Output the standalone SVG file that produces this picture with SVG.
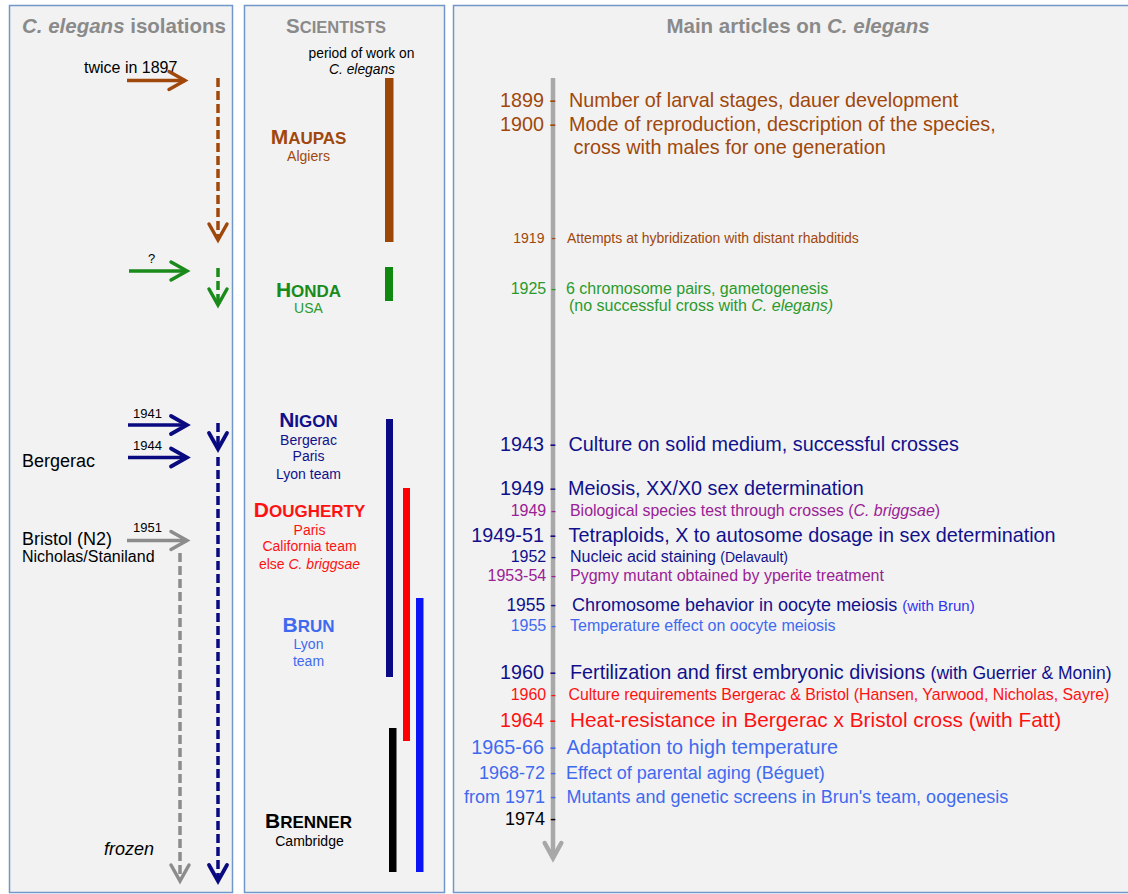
<svg xmlns="http://www.w3.org/2000/svg" width="1128" height="894" viewBox="0 0 1128 894">
<style>
text { font-family: "Liberation Sans", Arial, Helvetica, sans-serif; }
.panel { fill: #F2F2F2; stroke: #7298CB; stroke-width: 1.5; }
.title { font-size: 20.5px; font-weight: bold; fill: #8A8A8A; }
.it { font-style: italic; }
.name { font-weight: bold; text-anchor: middle; font-size: 17px; }
.cap { font-size: 21px; }
.sub { font-size: 14px; text-anchor: middle; }
.yr { text-anchor: end; }
.brown { fill: #A0480C; }
.green { fill: #1A8A1A; }
.green2 { fill: #2A9A2C; }
.navy { fill: #10108C; }
.red { fill: #FF1111; }
.purple { fill: #9A2196; }
.lblue { fill: #3F6AF0; }
.blue { fill: #3333EE; }
.blk { fill: #000000; }
.arr { fill: none; stroke-width: 3.5; }
.dash { stroke-dasharray: 9 4; }
</style>
<defs>
<marker id="m-brown" viewBox="0 0 22 22" refX="18" refY="11" markerWidth="22" markerHeight="22" markerUnits="userSpaceOnUse" orient="auto" style="overflow:visible"><path d="M2,2 L18,11 L2,20" fill="none" stroke="#A0480C" stroke-width="3.5" stroke-linecap="round"/></marker>
<marker id="m-green" viewBox="0 0 22 22" refX="18" refY="11" markerWidth="22" markerHeight="22" markerUnits="userSpaceOnUse" orient="auto" style="overflow:visible"><path d="M2,2 L18,11 L2,20" fill="none" stroke="#1A8A1A" stroke-width="3.5" stroke-linecap="round"/></marker>
<marker id="m-navy" viewBox="0 0 22 22" refX="18" refY="11" markerWidth="22" markerHeight="22" markerUnits="userSpaceOnUse" orient="auto" style="overflow:visible"><path d="M2,2 L18,11 L2,20" fill="none" stroke="#0A0A80" stroke-width="3.8" stroke-linecap="round"/></marker>
<marker id="m-gray" viewBox="0 0 22 22" refX="18" refY="11" markerWidth="22" markerHeight="22" markerUnits="userSpaceOnUse" orient="auto" style="overflow:visible"><path d="M2,2 L18,11 L2,20" fill="none" stroke="#8C8C8C" stroke-width="3.5" stroke-linecap="round"/></marker>
<marker id="m-time" viewBox="0 0 22 22" refX="18" refY="11" markerWidth="22" markerHeight="22" markerUnits="userSpaceOnUse" orient="auto" style="overflow:visible"><path d="M3,2.7 L18,11 L3,19.3" fill="none" stroke="#A8A8A8" stroke-width="4.5" stroke-linecap="round"/></marker>
</defs>
<rect width="1128" height="894" fill="#FFFFFF"/>

<g id="panel-isolations">
<rect class="panel" x="9.5" y="5.5" width="223" height="887"/>
<text class="title" x="22" y="33"><tspan class="it">C. elegans</tspan> isolations</text>
<text x="84" y="73" font-size="16">twice in 1897</text>
<text x="148" y="263" font-size="13">?</text>
<text x="133" y="418" font-size="13">1941</text>
<text x="133" y="450" font-size="13">1944</text>
<text x="22" y="467" font-size="18">Bergerac</text>
<text x="22" y="545" font-size="18">Bristol (N2)</text>
<text x="22" y="562" font-size="16">Nicholas/Staniland</text>
<text x="133" y="532" font-size="13">1951</text>
<text class="it" x="104" y="855" font-size="18">frozen</text>
</g>

<g id="panel-scientists">
<rect class="panel" x="244.5" y="5.5" width="200" height="887"/>
<text class="title" x="336" y="33" text-anchor="middle">S<tspan font-size="16.5">CIENTISTS</tspan></text>
<text x="361.5" y="58" font-size="13.8" text-anchor="middle">period of work on</text>
<text class="it" x="362" y="74" font-size="13.8" text-anchor="middle">C. elegans</text>
</g>

<g id="panel-articles">
<rect class="panel" x="453.5" y="5.5" width="700" height="887"/>
<text class="title" x="798" y="33" text-anchor="middle">Main articles on <tspan class="it">C. elegans</tspan></text>
</g>

<g id="maupas">
<rect x="385" y="78" width="8.5" height="164" fill="#9C4706"/>
<text class="name brown" x="308.5" y="144"><tspan class="cap">M</tspan>AUPAS</text>
<text class="sub brown" x="308.5" y="161">Algiers</text>
</g>
<g id="honda">
<rect x="385" y="267" width="8" height="34" fill="#0E880E"/>
<text class="name green" x="308.5" y="297"><tspan class="cap">H</tspan>ONDA</text>
<text class="sub green2" x="308.5" y="313">USA</text>
</g>
<g id="nigon">
<rect x="386" y="419" width="7" height="258" fill="#0A0A84"/>
<text class="name navy" x="308.5" y="427"><tspan class="cap">N</tspan>IGON</text>
<text class="sub navy" x="308.5" y="445">Bergerac</text>
<text class="sub navy" x="308.5" y="461">Paris</text>
<text class="sub navy" x="308.5" y="479">Lyon team</text>
</g>
<g id="dougherty">
<rect x="403" y="488" width="7" height="253" fill="#FF0000"/>
<text class="name red" x="309.5" y="517"><tspan class="cap">D</tspan>OUGHERTY</text>
<text class="sub red" x="309.5" y="535">Paris</text>
<text class="sub red" x="309.5" y="551">California team</text>
<text class="sub red" x="309.5" y="569">else <tspan class="it">C. briggsae</tspan></text>
</g>
<g id="brun">
<rect x="416" y="598" width="7.5" height="274" fill="#0A14F5"/>
<text class="name lblue" x="308.5" y="632"><tspan class="cap">B</tspan>RUN</text>
<text class="sub lblue" x="308.5" y="649">Lyon</text>
<text class="sub lblue" x="308.5" y="666">team</text>
</g>
<g id="brenner">
<rect x="389" y="728" width="7.5" height="144" fill="#000000"/>
<text class="name blk" x="308.5" y="828"><tspan class="cap">B</tspan>RENNER</text>
<text class="sub blk" x="309.5" y="846">Cambridge</text>
</g>

<g id="timeline">
<line x1="553" y1="78" x2="553" y2="858" stroke="#A8A8A8" stroke-width="4.5" marker-end="url(#m-time)"/>
</g>

<g id="articles">
<text class="yr brown" x="556" y="107" font-size="19.8">1899 -</text>
<text class="brown" x="569" y="107" font-size="19.8">Number of larval stages, dauer development</text>
<text class="yr brown" x="556" y="131" font-size="19.8">1900 -</text>
<text class="brown" x="569" y="131" font-size="19.8">Mode of reproduction, description of the species,</text>
<text class="brown" x="573.5" y="154" font-size="19.8">cross with males for one generation</text>
<text class="yr brown" x="556" y="243" font-size="14">1919 <tspan dx="3">-</tspan></text>
<text class="brown" x="567" y="243" font-size="14">Attempts at hybridization with distant rhabditids</text>
<text class="yr green2" x="556" y="294" font-size="16">1925 -</text>
<text class="green2" x="566" y="294" font-size="16">6 chromosome pairs, gametogenesis</text>
<text class="green2" x="569" y="311" font-size="16">(no successful cross with <tspan class="it">C. elegans)</tspan></text>

<text class="yr navy" x="556" y="451" font-size="19.8">1943 -</text>
<text class="navy" x="568.5" y="451" font-size="19.8">Culture on solid medium, successful crosses</text>
<text class="yr navy" x="556" y="495" font-size="19.8">1949 -</text>
<text class="navy" x="568" y="495" font-size="19.8">Meiosis, XX/X0 sex determination</text>
<text class="yr purple" x="556" y="516" font-size="16">1949 -</text>
<text class="purple" x="570" y="516" font-size="15.9">Biological species test through crosses (<tspan class="it">C. briggsae</tspan>)</text>
<text class="yr navy" x="556" y="542" font-size="19.8">1949-51 -</text>
<text class="navy" x="568.5" y="542" font-size="19.8">Tetraploids, X to autosome dosage in sex determination</text>
<text class="yr navy" x="556" y="562" font-size="16">1952 -</text>
<text class="navy" x="570" y="562" font-size="16">Nucleic acid staining <tspan font-size="14">(Delavault)</tspan></text>
<text class="yr purple" x="556" y="581" font-size="16">1953-54 -</text>
<text class="purple" x="570" y="581" font-size="16">Pygmy mutant obtained by yperite treatment</text>
<text class="yr navy" x="556" y="611" font-size="17.5">1955 -</text>
<text class="navy" x="572" y="611" font-size="18">Chromosome behavior in oocyte meiosis <tspan class="blue" font-size="15">(with Brun)</tspan></text>
<text class="yr lblue" x="556" y="631" font-size="16">1955 -</text>
<text class="lblue" x="570" y="631" font-size="16">Temperature effect on oocyte meiosis</text>

<text class="yr navy" x="556" y="679" font-size="19.8">1960 -</text>
<text class="navy" x="570" y="679" font-size="19.8">Fertilization and first embryonic divisions <tspan font-size="17.5">(with Guerrier &amp; Monin)</tspan></text>
<text class="yr red" x="556" y="700" font-size="16">1960 -</text>
<text class="red" x="568.5" y="700" font-size="15.9">Culture requirements Bergerac &amp; Bristol (Hansen, Yarwood, Nicholas, Sayre)</text>
<text class="yr red" x="556" y="727" font-size="19.8">1964 -</text>
<text class="red" x="570" y="727" font-size="20.8">Heat-resistance in Bergerac x Bristol cross (with Fatt)</text>
<text class="yr lblue" x="556" y="754" font-size="19.8">1965-66 -</text>
<text class="lblue" x="566.5" y="754" font-size="19.8">Adaptation to high temperature</text>
<text class="yr lblue" x="556" y="779" font-size="18">1968-72 -</text>
<text class="lblue" x="566" y="779" font-size="18">Effect of parental aging (Béguet)</text>
<text class="yr lblue" x="556" y="803" font-size="18">from 1971 -</text>
<text class="lblue" x="566.5" y="803" font-size="18">Mutants and genetic screens in Brun's team, oogenesis</text>
<text class="yr blk" x="556" y="825" font-size="18">1974 -</text>
</g>

<g id="connectors">
<line class="arr" x1="127" y1="80.5" x2="185" y2="80.5" stroke="#A0480C" marker-end="url(#m-brown)"/>
<line class="arr dash" x1="218" y1="78" x2="218" y2="240" stroke="#A0480C" marker-end="url(#m-brown)"/>
<line class="arr" x1="129" y1="271" x2="187" y2="271" stroke="#1A8A1A" marker-end="url(#m-green)"/>
<line class="arr dash" x1="218" y1="268" x2="218" y2="305" stroke="#1A8A1A" marker-end="url(#m-green)"/>
<line class="arr" x1="128" y1="425" x2="187" y2="425" stroke="#0A0A80" stroke-width="3.8" marker-end="url(#m-navy)"/>
<line class="arr" x1="128" y1="457.5" x2="187" y2="457.5" stroke="#0A0A80" stroke-width="3.8" marker-end="url(#m-navy)"/>
<line class="arr dash" x1="218" y1="423" x2="218" y2="449" stroke="#0A0A80" stroke-dasharray="7 4" marker-end="url(#m-navy)"/>
<line class="arr dash" x1="218" y1="457" x2="218" y2="881" stroke="#0A0A80" marker-end="url(#m-navy)"/>
<line class="arr" x1="127" y1="540.5" x2="187" y2="540.5" stroke="#8C8C8C" marker-end="url(#m-gray)"/>
<line class="arr dash" x1="180" y1="553" x2="180" y2="881" stroke="#8C8C8C" marker-end="url(#m-gray)"/>
</g>
</svg>
